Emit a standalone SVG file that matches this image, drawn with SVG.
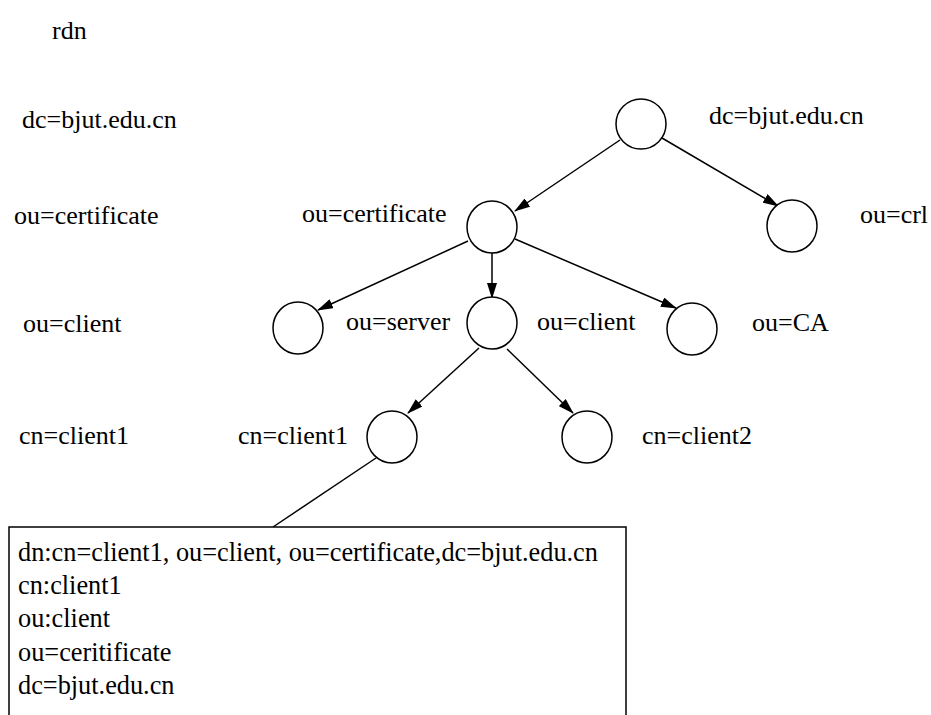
<svg xmlns="http://www.w3.org/2000/svg" width="931" height="715" viewBox="0 0 931 715">
  <style>
    text { font-family: "Liberation Serif", "Times New Roman", "DejaVu Serif", serif; font-size: 26px; fill: #000; }
    .node { fill: #fff; stroke: #000; stroke-width: 1.5; }
    .edge { stroke: #000; stroke-width: 1.5; fill: none; }
    .arrow { marker-end: url(#head); }
    .box { fill: #fff; stroke: #000; stroke-width: 1.5; }
    .entry-text { font-size: 26.3px; }
  </style>
  <defs>
    <marker id="head" viewBox="0 0 16 10" refX="15" refY="5" markerWidth="16" markerHeight="10" markerUnits="userSpaceOnUse" orient="auto">
      <path d="M0,0 L16,5 L0,10 Z" fill="#000"/>
    </marker>
  </defs>

  <rect width="931" height="715" fill="#fff"/>

  <!-- level legend (relative distinguished names) -->
  <g id="legend">
    <text x="52" y="39">rdn</text>
    <text x="22" y="128">dc=bjut.edu.cn</text>
    <text x="14" y="224">ou=certificate</text>
    <text x="23" y="332">ou=client</text>
    <text x="19" y="444">cn=client1</text>
  </g>

  <!-- connectors -->
  <g id="connectors">
    <line class="edge arrow" x1="620" y1="140" x2="515" y2="211"/>
    <line class="edge arrow" x1="662" y1="138" x2="778" y2="206"/>
    <line class="edge arrow" x1="468" y1="241" x2="318" y2="310"/>
    <line class="edge arrow" x1="492" y1="253" x2="492" y2="298"/>
    <line class="edge arrow" x1="515" y1="239" x2="676" y2="308"/>
    <line class="edge arrow" x1="479" y1="348" x2="408" y2="413"/>
    <line class="edge arrow" x1="507" y1="349" x2="573" y2="413"/>
    <line class="edge" x1="376" y1="458" x2="273" y2="527"/>
  </g>

  <g id="n-root">
    <ellipse class="node" cx="641" cy="124" rx="25" ry="25"/>
    <text x="709" y="124">dc=bjut.edu.cn</text>
  </g>
  <g id="n-certificate">
    <ellipse class="node" cx="492" cy="227" rx="25" ry="26"/>
    <text x="302" y="222">ou=certificate</text>
  </g>
  <g id="n-crl">
    <ellipse class="node" cx="792" cy="226" rx="25" ry="26"/>
    <text x="860" y="223">ou=crl</text>
  </g>
  <g id="n-client">
    <ellipse class="node" cx="298" cy="328" rx="25" ry="26"/>
  </g>
  <g id="n-server">
    <ellipse class="node" cx="492" cy="323" rx="25" ry="26"/>
    <text x="346" y="330">ou=server</text>
  </g>
  <g id="n-ca">
    <ellipse class="node" cx="692" cy="329" rx="25" ry="26"/>
    <text x="537" y="330">ou=client</text>
    <text x="752" y="331">ou=CA</text>
  </g>
  <g id="n-client1">
    <ellipse class="node" cx="392" cy="437" rx="25" ry="26"/>
    <text x="238" y="444">cn=client1</text>
  </g>
  <g id="n-client2">
    <ellipse class="node" cx="587" cy="437" rx="25" ry="26"/>
    <text x="642" y="444">cn=client2</text>
  </g>

  <!-- entry detail -->
  <g id="entry">
    <rect class="box" x="9" y="527" width="617" height="200"/>
    <text class="entry-text" x="18" y="561">dn:cn=client1, ou=client, ou=certificate,dc=bjut.edu.cn</text>
    <text class="entry-text" x="18" y="594">cn:client1</text>
    <text class="entry-text" x="18" y="627">ou:client</text>
    <text class="entry-text" x="18" y="661">ou=ceritificate</text>
    <text class="entry-text" x="18" y="694">dc=bjut.edu.cn</text>
  </g>
</svg>
